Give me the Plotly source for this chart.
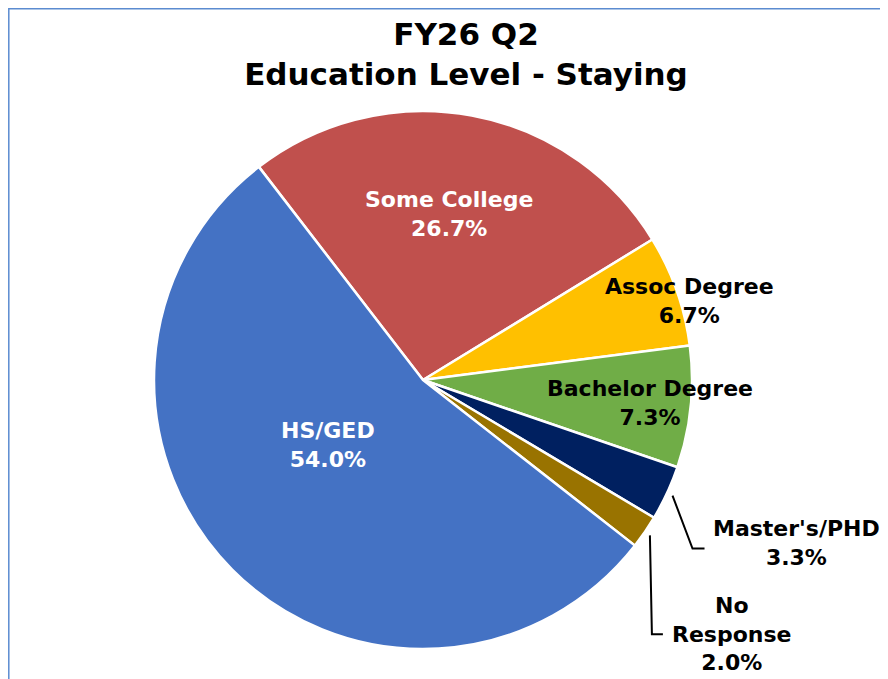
import math
import plotly.graph_objects as go

# ---- data ----
categories = ["Some College", "Assoc Degree", "Bachelor Degree", "Master's/PHD", "No Response", "HS/GED"]
percent_values = [26.7, 6.7, 7.3, 3.3, 2.0, 54.0]
slice_colors = ["#C0504D", "#FFC000", "#70AD47", "#002060", "#997300", "#4472C4"]
label_text_colors = ["white", "black", "black", "black", "black", "white"]
title_lines = ["FY26 Q2", "Education Level - Staying"]

# ---- layout / style parameters ----
OFF = 8                            # page body margin offset
W, H = 888 - OFF, 679 - OFF
CX, CY, R = 423, 380, 269          # pie centre and radius in page pixels
ROTATION = -37.6                   # start angle of first slice (deg, clockwise from 12 o'clock)
FONT = "DejaVu Sans"
LABEL_SIZE = 22

# inside label placement: (radius fraction, angle offset in deg)
inside_place = {
    "Some College": (0.626, -1.6),
    "Assoc Degree": (1.035, 2.9),
    "Bachelor Degree": (0.848, 0.1),
    "HS/GED": (0.428, 10.4),
}
# outside labels: elbow offset from edge point, stub length, text offset from stub end
outside_place = {
    "Master's/PHD": ((20, 53), 12, (92, -6)),
    "No Response": ((2, 99), 11, (69, 0)),
}
label_breaks = {"No Response": "No<br>Response"}


def px2paper(x, y):
    return (x - OFF) / W, 1 - (y - OFF) / H


fig = go.Figure()
dx0, dy1 = px2paper(CX - R, CY - R)
dx1, dy0 = px2paper(CX + R, CY + R)
fig.add_trace(go.Pie(
    labels=categories,
    values=percent_values,
    sort=False,
    direction="clockwise",
    rotation=ROTATION,
    marker=dict(colors=slice_colors, line=dict(color="white", width=2.5)),
    textinfo="none",
    hoverinfo="label+percent",
    showlegend=False,
    domain=dict(x=[dx0, dx1], y=[dy0, dy1]),
))

total = sum(percent_values)
start = ROTATION
annotations = []
shapes = []
for cat, val, tcol in zip(categories, percent_values, label_text_colors):
    span = val / total * 360.0
    mid = start + span / 2.0
    start += span
    name = label_breaks.get(cat, cat)
    text = f"<b>{name}<br>{val:.1f}%</b>"
    if cat in inside_place:
        rf, off = inside_place[cat]
        a = math.radians(mid + off)
        px = CX + rf * R * math.sin(a)
        py = CY - rf * R * math.cos(a)
        x, y = px2paper(px, py)
    else:
        (ex, ey), stub, (tx, ty) = outside_place[cat]
        a = math.radians(mid)
        sx = CX + (R + 6) * math.sin(a)
        sy = CY - (R + 6) * math.cos(a)
        bx, by = sx + ex, sy + ey
        fx, fy = bx + stub, by
        p0, p1, p2 = px2paper(sx, sy), px2paper(bx, by), px2paper(fx, fy)
        shapes.append(dict(type="path", xref="paper", yref="paper",
                           path=f"M {p0[0]},{p0[1]} L {p1[0]},{p1[1]} L {p2[0]},{p2[1]}",
                           line=dict(color="black", width=2)))
        x, y = px2paper(fx + tx, fy + ty)
    annotations.append(dict(x=x, y=y, xref="paper", yref="paper", text=text, showarrow=False,
                            xanchor="center", yanchor="middle",
                            font=dict(family=FONT, size=LABEL_SIZE, color=tcol)))

# chart border (right/bottom edges fall outside the visible area)
shapes.append(dict(type="rect", xref="paper", yref="paper",
                   x0=0.8 / W, x1=1.02, y0=-0.02, y1=1 - 0.8 / H,
                   line=dict(color="#5B8BD0", width=1.5), fillcolor="rgba(0,0,0,0)"))

fig.update_layout(
    width=W, height=H,
    margin=dict(l=0, r=0, t=0, b=0),
    paper_bgcolor="white",
    plot_bgcolor="white",
    title=dict(text="<b>" + "<br>".join(title_lines) + "</b>",
               x=(466 - OFF) / W, xanchor="center", xref="paper",
               y=1 - 37 / H, yanchor="top", yref="container",
               font=dict(family=FONT, size=31, color="black")),
    annotations=annotations,
    shapes=shapes,
)

fig.write_html("out.html")
